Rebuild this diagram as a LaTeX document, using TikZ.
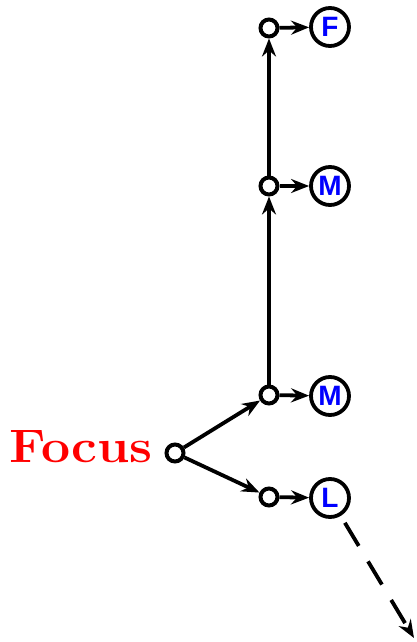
\documentclass[tikz,border=0pt]{standalone}
\usepackage{fontspec}
\usepackage{graphicx}
\usetikzlibrary{arrows.meta}
\newfontfamily\labfont{Liberation Sans}
\definecolor{labblue}{RGB}{0,0,255}
\definecolor{focusred}{RGB}{255,0,0}
\begin{document}
\begin{tikzpicture}[x=1pt,y=-1pt,
  tip/.style={-{Stealth[length=18pt,width=14pt,inset=6pt]}},
  small/.style={circle,draw,line width=4pt,minimum size=17pt,inner sep=0pt},
  big/.style={circle,draw,line width=3.8pt,minimum size=38pt,inner sep=0pt,
    font=\labfont\bfseries\fontsize{28}{28}\selectfont,text=labblue},
  conn/.style={line width=3.8pt,tip}]
\useasboundingbox (0,0) rectangle (416,642);
\node[small] (focus) at (175,453) {};
\node[small] (m1s) at (269,395) {};
\node[small] (ls) at (269,497) {};
\node[small] (m2s) at (269,186) {};
\node[small] (fs) at (269,28) {};
\node[big] (m1) at (330,396) {M};
\node[big] (l) at (330,498) {L};
\node[big] (m2) at (330,186) {M};
\node[big] (f) at (330,27) {F};
\coordinate (end) at (414,638);
\node[anchor=base east,inner sep=0pt,text=focusred] (ftext) at (153,462)
  {\scalebox{1.1}[1]{\fontsize{47}{47}\selectfont\bfseries Focus}};
\draw[conn] (focus) -- (m1s);
\draw[conn] (focus) -- (ls);
\draw[conn] (m1s) -- (m2s);
\draw[conn] (m2s) -- (fs);
\draw[conn] (m1s) -- (m1);
\draw[conn] (ls) -- (l);
\draw[conn] (m2s) -- (m2);
\draw[conn] (fs) -- (f);
\draw[conn,dash pattern=on 27pt off 18pt,shorten <=8pt] (l) -- (end);
\end{tikzpicture}
\end{document}
